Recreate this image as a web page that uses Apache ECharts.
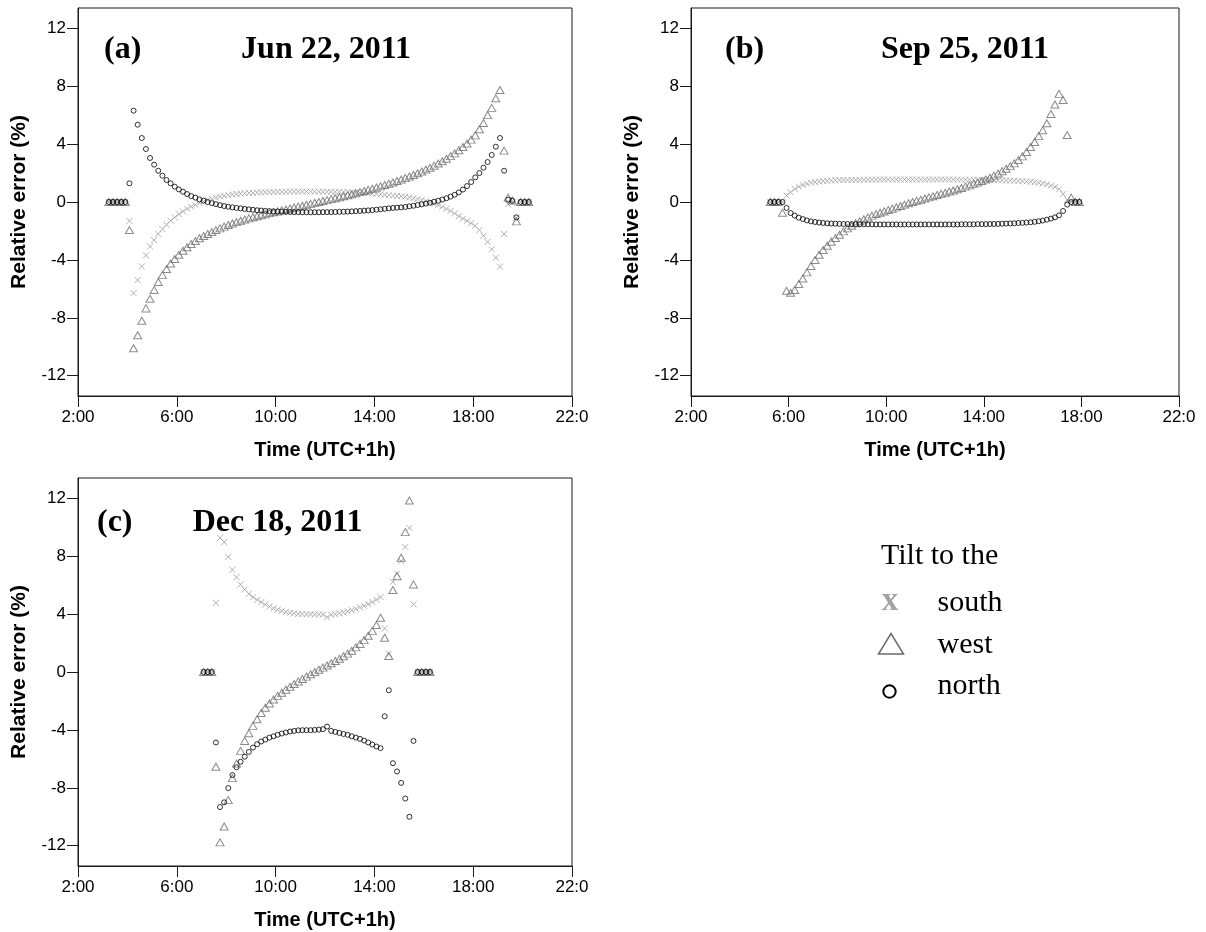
<!DOCTYPE html>
<html>
<head>
<meta charset="utf-8">
<script src="https://cdn.jsdelivr.net/npm/echarts/dist/echarts.min.js"></script>
<style>html,body{margin:0;padding:0;background:#fff}#chart{width:1206px;height:932px}</style>
</head>
<body>
<div id="chart"></div>
<script>
// ---------- axis ticks ----------
const xTicks = [2, 6, 10, 14, 18, 22];
const xTickLabels = ['2:00', '6:00', '10:00', '14:00', '18:00', '22:0'];
const yTicks = [-12, -8, -4, 0, 4, 8, 12];
const yTickLabels = ['-12', '-8', '-4', '0', '4', '8', '12'];
const seriesNames = ['south', 'west', 'north'];
const panelLetters = ['(a)', '(b)', '(c)'];
const panelDates = ['Jun 22, 2011', 'Sep 25, 2011', 'Dec 18, 2011'];

// ---------- (a) Jun 22, 2011 ----------
const timesA = ['3:15','3:25','3:35','3:45','3:55','4:05','4:15','4:25','4:35','4:45','4:55',
 '5:05','5:15','5:25','5:35','5:45','5:55','6:05','6:15','6:25','6:35','6:45','6:55',
 '7:05','7:15','7:25','7:35','7:45','7:55','8:05','8:15','8:25','8:35','8:45','8:55',
 '9:05','9:15','9:25','9:35','9:45','9:55','10:05','10:15','10:25','10:35','10:45','10:55',
 '11:05','11:15','11:25','11:35','11:45','11:55','12:05','12:15','12:25','12:35','12:45','12:55',
 '13:05','13:15','13:25','13:35','13:45','13:55','14:05','14:15','14:25','14:35','14:45','14:55',
 '15:05','15:15','15:25','15:35','15:45','15:55','16:05','16:15','16:25','16:35','16:45','16:55',
 '17:05','17:15','17:25','17:35','17:45','17:55','18:05','18:15','18:25','18:35','18:45','18:55',
 '19:05','19:15','19:25','19:35','19:45','19:55','20:05','20:15'];
const southA = [0,0,0,0,0,-1.3,-6.29,-5.39,-4.45,-3.69,-3.07,
 -2.63,-2.21,-1.87,-1.57,-1.29,-1.06, -0.83,-0.65,-0.46,-0.32,-0.19,-0.07,
 0.04,0.14,0.23,0.3,0.37,0.43, 0.48,0.52,0.55,0.58,0.6,0.62,
 0.63,0.65,0.66,0.67,0.68,0.69, 0.7,0.71,0.71,0.72,0.72,0.72,
 0.72,0.72,0.73,0.72,0.72,0.71, 0.71,0.71,0.7,0.7,0.69,0.68,
 0.66,0.65,0.63,0.62,0.6,0.58, 0.56,0.53,0.5,0.47,0.44,0.42,
 0.4,0.36,0.31,0.26,0.2,0.13, 0.05,-0.03,-0.12,-0.22,-0.34,-0.47,
 -0.62,-0.79,-0.98,-1.15,-1.3,-1.47, -1.64,-1.94,-2.33,-2.76,-3.27,-3.85,
 -4.47,-2.21,-0.16,-0.05,-1.1,0,0,0];
const westA = [0,0,0,0,0,-1.94,-10.1,-9.2,-8.2,-7.35,-6.68,
 -6.08,-5.53,-5.05,-4.63,-4.25,-3.94, -3.64,-3.37,-3.13,-2.9,-2.69,-2.5,
 -2.35,-2.21,-2.07,-1.94,-1.82,-1.7, -1.59,-1.49,-1.39,-1.3,-1.21,-1.13,
 -1.05,-0.98,-0.91,-0.84,-0.77,-0.71, -0.65,-0.58,-0.52,-0.45,-0.39,-0.32,
 -0.26,-0.19,-0.13,-0.06,0,0.07, 0.13,0.2,0.26,0.33,0.4,0.47,
 0.54,0.61,0.68,0.76,0.84,0.92, 1,1.08,1.17,1.26,1.35,1.45,
 1.55,1.65,1.76,1.87,1.99,2.11, 2.24,2.37,2.51,2.66,2.82,2.99,
 3.17,3.36,3.57,3.8,4.04,4.31, 4.6,5.02,5.46,6,6.5,7.16,
 7.74,3.55,0.3,0.1,-1.34,0,0,0];
const northA = [0,0,0,0,0,1.29,6.31,5.34,4.42,3.66,3.04,
 2.58,2.16,1.82,1.52,1.29,1.06, 0.87,0.71,0.55,0.41,0.3,0.18,
 0.09,0,-0.08,-0.15,-0.22,-0.28, -0.33,-0.37,-0.41,-0.44,-0.48,-0.51,
 -0.54,-0.57,-0.59,-0.61,-0.63,-0.65, -0.66,-0.67,-0.68,-0.69,-0.7,-0.7,
 -0.71,-0.71,-0.71,-0.71,-0.71,-0.7, -0.7,-0.7,-0.69,-0.68,-0.67,-0.66,
 -0.65,-0.63,-0.62,-0.6,-0.58,-0.56, -0.53,-0.5,-0.47,-0.44,-0.41,-0.39,
 -0.37,-0.34,-0.3,-0.26,-0.21,-0.16, -0.11,-0.05,0.02,0.09,0.17,0.26,
 0.37,0.5,0.66,0.86,1.1,1.38, 1.7,2,2.37,2.76,3.25,3.82,
 4.42,2.16,0.16,0.09,-1.06,0,0,0];

// ---------- (b) Sep 25, 2011 ----------
const timesB = ['5:15','5:25','5:35','5:45','5:55',
 '6:05','6:15','6:25','6:35','6:45','6:55','7:05','7:15','7:25','7:35','7:45','7:55',
 '8:05','8:15','8:25','8:35','8:45','8:55','9:05','9:15','9:25','9:35','9:45','9:55',
 '10:05','10:15','10:25','10:35','10:45','10:55','11:05','11:15','11:25','11:35','11:45','11:55',
 '12:05','12:15','12:25','12:35','12:45','12:55','13:05','13:15','13:25','13:35','13:45','13:55',
 '14:05','14:15','14:25','14:35','14:45','14:55','15:05','15:15','15:25','15:35','15:45','15:55',
 '16:05','16:15','16:25','16:35','16:45','16:55','17:05','17:15','17:25','17:35','17:45','17:55'];
const southB = [0,0,0,0,0.44,
 0.67,0.9,1.06,1.18,1.27,1.34, 1.38,1.42,1.45,1.47,1.49,1.5,
 1.51,1.52,1.52,1.53,1.53,1.53, 1.54,1.54,1.54,1.55,1.55,1.55,
 1.55,1.55,1.55,1.55,1.55,1.55, 1.55,1.55,1.55,1.55,1.55,1.55,
 1.55,1.55,1.55,1.55,1.55,1.55, 1.54,1.54,1.54,1.54,1.53,1.53,
 1.52,1.52,1.51,1.5,1.5,1.49, 1.48,1.47,1.45,1.44,1.42,1.4,
 1.37,1.33,1.28,1.21,1.13,1.04, 0.88,0.55,0.15,0.03,0,0];
const westB = [0,0,0,-0.74,-6.13,
 -6.27,-6.08,-5.67,-5.28,-4.86,-4.42, -4.01,-3.64,-3.32,-3.02,-2.74,-2.49,
 -2.26,-2.03,-1.82,-1.64,-1.47,-1.34, -1.2,-1.06,-0.94,-0.83,-0.74,-0.65,
 -0.55,-0.46,-0.37,-0.28,-0.18,-0.09, 0,0.08,0.16,0.24,0.32,0.4,
 0.48,0.56,0.64,0.72,0.8,0.88, 0.97,1.06,1.15,1.25,1.35,1.45,
 1.55,1.68,1.82,1.97,2.13,2.3, 2.48,2.67,2.9,3.15,3.45,3.8,
 4.15,4.55,4.95,5.44,6.08,6.73, 7.47,7.05,4.63,0.3,0,0];
const northB = [0,0,0,0,-0.41,
 -0.76,-0.94,-1.08,-1.18,-1.27,-1.34, -1.38,-1.42,-1.45,-1.47,-1.49,-1.5,
 -1.51,-1.52,-1.52,-1.53,-1.53,-1.53, -1.54,-1.54,-1.54,-1.55,-1.55,-1.55,
 -1.55,-1.55,-1.55,-1.55,-1.55,-1.55, -1.55,-1.55,-1.55,-1.55,-1.55,-1.55,
 -1.55,-1.55,-1.55,-1.55,-1.55,-1.55, -1.54,-1.54,-1.54,-1.54,-1.53,-1.53,
 -1.53,-1.52,-1.52,-1.51,-1.5,-1.49, -1.48,-1.47,-1.45,-1.44,-1.42,-1.4,
 -1.37,-1.33,-1.28,-1.22,-1.15,-1.06, -0.92,-0.62,-0.18,0,0,0];

// ---------- (c) Dec 18, 2011 ----------
const timesC = ['7:05','7:15','7:25','7:35','7:45','7:55',
 '8:05','8:15','8:25','8:35','8:45','8:55','9:05','9:15','9:25','9:35','9:45','9:55',
 '10:05','10:15','10:25','10:35','10:45','10:55','11:05','11:15','11:25','11:35','11:45','11:55',
 '12:05','12:15','12:25','12:35','12:45','12:55','13:05','13:15','13:25','13:35','13:45','13:55',
 '14:05','14:15','14:25','14:35','14:45','14:55','15:05','15:15','15:25','15:35','15:45','15:55',
 '16:05','16:15'];
const southC = [0,0,0,4.78,9.26,8.97,
 7.95,7.06,6.55,6.05,5.7,5.4, 5.17,4.99,4.82,4.66,4.52,4.4,
 4.3,4.22,4.15,4.09,4.05,4.02, 4,3.99,3.99,3.98,3.98,3.97,
 3.78,3.95,4,4.06,4.12,4.19, 4.27,4.36,4.46,4.57,4.69,4.83,
 4.99,5.17,3.01,1.26,6.23,6.8, 7.66,8.64,9.95,4.67,0,0,
 0,0];
const westC = [0,0,0,-6.55,-11.77,-10.67,
 -8.85,-7.33,-6.32,-5.45,-4.76,-4.23, -3.72,-3.26,-2.83,-2.47,-2.17,-1.9,
 -1.65,-1.43,-1.22,-1.02,-0.83,-0.65, -0.48,-0.32,-0.16,0,0.15,0.3,
 0.45,0.6,0.76,0.92,1.09,1.27, 1.47,1.7,1.94,2.2,2.5,2.84,
 3.25,3.75,2.37,1.1,5.66,6.62, 7.89,9.66,11.84,6.05,0,0,
 0,0];
const northC = [0,0,0,-4.87,-9.33,-9,
 -8.02,-7.12,-6.58,-6.2,-5.85,-5.52, -5.22,-4.99,-4.8,-4.67,-4.53,-4.44,
 -4.34,-4.25,-4.18,-4.11,-4.07,-4.03, -4.02,-4.02,-4.02,-4,-3.98,-3.95,
 -3.77,-4.07,-4.14,-4.21,-4.28,-4.34, -4.44,-4.53,-4.62,-4.74,-4.87,-5.01,
 -5.15,-5.26,-3.06,-1.26,-6.3,-6.87, -7.66,-8.74,-10,-4.76,0,0,
 0,0];

// ---------- build ----------
function toHours(s) { const p = s.split(':'); return Number(p[0]) + Number(p[1]) / 60; }
function pairs(times, vals) { return times.map((t, i) => [toHours(t), vals[i]]); }

const panels = [
  { times: timesA, vals: [southA, westA, northA] },
  { times: timesB, vals: [southB, westB, northB] },
  { times: timesC, vals: [southC, westC, northC] }
];

const gridBoxes = [
  { left: 78, top: 8, width: 494, height: 388 },
  { left: 691, top: 8, width: 488, height: 388 },
  { left: 78, top: 478, width: 494, height: 388 }
];

const AX = '#1a1a1a';
const sansFont = '"Liberation Sans", Arial, sans-serif';
const serifFont = '"Liberation Serif", "Times New Roman", serif';

const markerStyles = [
  { symbol: 'path://M0,0L10,10M10,0L0,10', symbolSize: 6, itemStyle: { color: 'transparent', borderColor: '#9d9d9d', borderWidth: 1 } },
  { symbol: 'triangle', symbolSize: [8, 7], itemStyle: { color: 'transparent', borderColor: '#6e6e6e', borderWidth: 1 } },
  { symbol: 'circle', symbolSize: 5, itemStyle: { color: 'transparent', borderColor: '#000', borderWidth: 1 } }
];

const grid = gridBoxes.map(g => Object.assign({ show: true, borderColor: AX, borderWidth: 1, backgroundColor: 'transparent', containLabel: false }, g));

const xAxis = gridBoxes.map((g, i) => ({
  type: 'value', gridIndex: i, min: 2, max: 22,
  name: 'Time (UTC+1h)', nameLocation: 'middle', nameGap: 44,
  nameTextStyle: { fontFamily: sansFont, fontWeight: 'bold', fontSize: 20, color: '#000' },
  axisLine: { show: true, onZero: false, lineStyle: { color: AX, width: 1 } },
  axisTick: { show: true, length: 11, customValues: xTicks, lineStyle: { color: AX, width: 1 } },
  axisLabel: { show: true, customValues: xTicks, margin: 13, fontFamily: sansFont, fontSize: 17, color: '#000',
    formatter: v => xTickLabels[xTicks.indexOf(v)] },
  splitLine: { show: false }
}));

const yAxis = gridBoxes.map((g, i) => ({
  type: 'value', gridIndex: i, min: -13.4, max: 13.4,
  name: 'Relative error (%)', nameLocation: 'middle', nameGap: 48, nameRotate: 90,
  nameTextStyle: { fontFamily: sansFont, fontWeight: 'bold', fontSize: 21, color: '#000' },
  axisLine: { show: true, onZero: false, lineStyle: { color: AX, width: 1 } },
  axisTick: { show: true, length: 11, customValues: yTicks, lineStyle: { color: AX, width: 1 } },
  axisLabel: { show: true, customValues: yTicks, margin: 12, fontFamily: sansFont, fontSize: 17, color: '#000',
    formatter: v => yTickLabels[yTicks.indexOf(v)] },
  splitLine: { show: false }
}));

const series = [];
panels.forEach((p, i) => {
  p.vals.forEach((vals, k) => {
    series.push(Object.assign({
      type: 'scatter', name: seriesNames[k], xAxisIndex: i, yAxisIndex: i,
      data: pairs(p.times, vals), silent: true, animation: false, z: 2 + k
    }, markerStyles[k]));
  });
});

// titles & legend (graphic)
function txt(text, x, y, font, align, fill) {
  return { type: 'text', x: x, y: y, silent: true, z: 100,
    style: { text: text, font: font, fill: fill || '#000', align: align, verticalAlign: 'middle',
      textAlign: align, textVerticalAlign: 'middle' } };
}
const titleFont = 'bold 32px ' + serifFont;
const legendFont = '30px ' + serifFont;
const graphic = [
  txt(panelLetters[0], 104, 50, titleFont, 'left'),
  txt(panelDates[0], 326, 50, titleFont, 'center'),
  txt(panelLetters[1], 725, 50, titleFont, 'left'),
  txt(panelDates[1], 965, 50, titleFont, 'center'),
  txt(panelLetters[2], 97, 523, titleFont, 'left'),
  txt(panelDates[2], 277.5, 523, titleFont, 'center'),
  txt('Tilt to the', 881, 556.5, legendFont, 'left'),
  txt('x', 890, 601, 'bold 33px ' + serifFont, 'center', '#a3a3a3'),
  { type: 'polygon', silent: true, z: 100, shape: { points: [[878.5, 654], [903.5, 654], [891, 633.5]] },
    style: { fill: 'none', stroke: '#6a6a6a', lineWidth: 1.5 } },
  { type: 'circle', silent: true, z: 100, shape: { cx: 889.5, cy: 691.5, r: 6.2 },
    style: { fill: 'none', stroke: '#000', lineWidth: 2 } },
  txt(seriesNames[0], 937.5, 603, legendFont, 'left'),
  txt(seriesNames[1], 937.5, 645, legendFont, 'left'),
  txt(seriesNames[2], 937.5, 686.6, legendFont, 'left')
];

const chart = echarts.init(document.getElementById('chart'), null, { renderer: 'canvas' });
chart.setOption({
  backgroundColor: '#fff',
  animation: false,
  grid: grid,
  xAxis: xAxis,
  yAxis: yAxis,
  series: series,
  graphic: graphic
});
</script>
</body>
</html>
